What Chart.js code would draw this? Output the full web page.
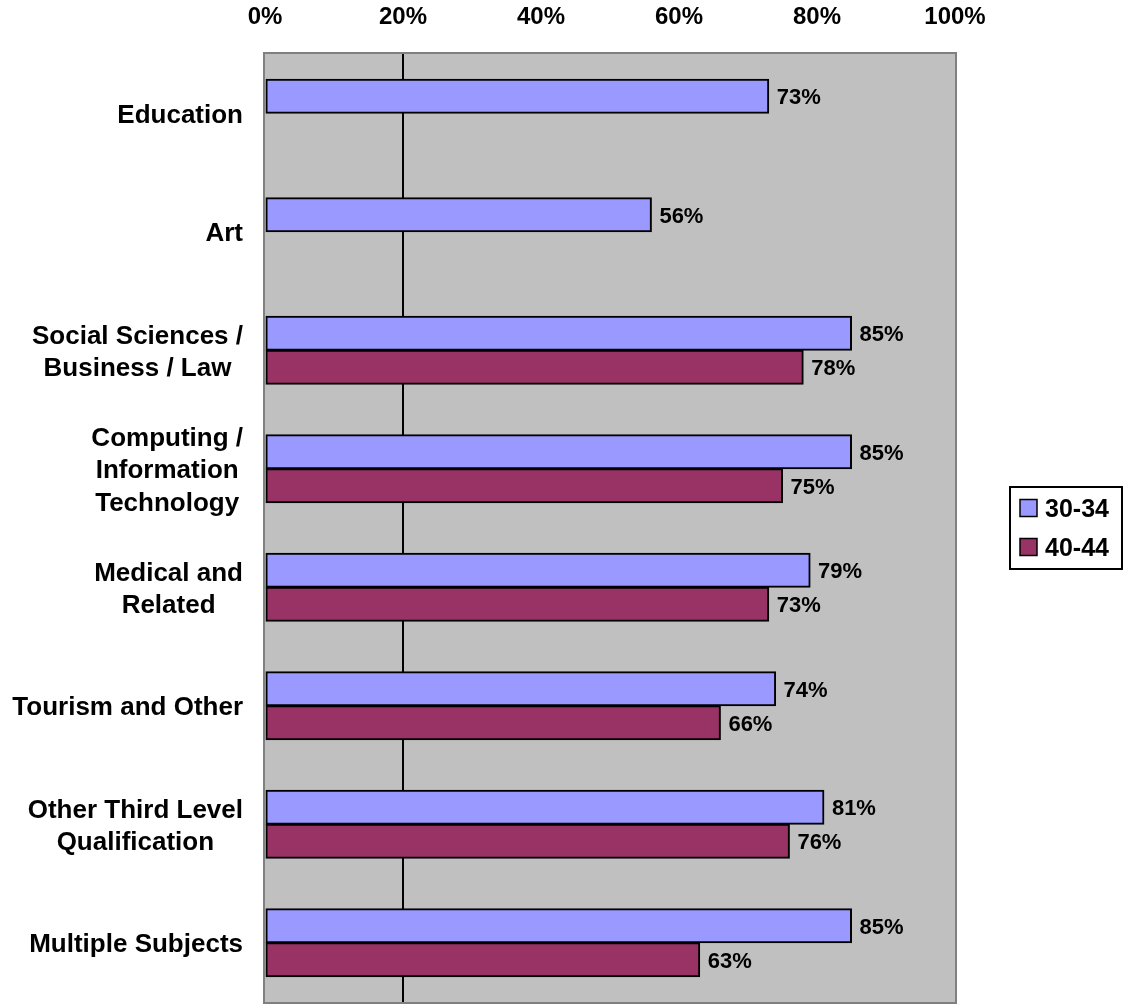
<!DOCTYPE html>
<html>
<head>
<meta charset="utf-8">
<script src="https://cdn.jsdelivr.net/npm/chart.js@4/dist/chart.umd.min.js"></script>
<style>
  html, body { margin: 0; padding: 0; background: #fff; }
  canvas { display: block; }
</style>
</head>
<body>
<canvas id="subjectChart" width="1124" height="1005"></canvas>
<script>
const categories = [
  ['Education'],
  ['Art'],
  ['Social Sciences /', 'Business / Law'],
  ['Computing /', 'Information', 'Technology'],
  ['Medical and', 'Related'],
  ['Tourism and Other'],
  ['Other Third Level', 'Qualification'],
  ['Multiple Subjects']
];
const seriesNames = ['30-34', '40-44'];
const age3034 = [73, 56, 85, 85, 79, 74, 81, 85];
const age4044 = [null, null, 78, 75, 73, 66, 76, 63];
const xTicks = [0, 20, 40, 60, 80, 100];

const FONT = "'Liberation Sans', Arial, sans-serif";

// gray plot area with its border
const plotBackground = {
  id: 'plotBackground',
  beforeDraw(chart) {
    const { ctx, chartArea: a } = chart;
    ctx.save();
    ctx.fillStyle = '#C0C0C0';
    ctx.fillRect(a.left, a.top, a.right - a.left, a.bottom - a.top);
    ctx.strokeStyle = '#808080';
    ctx.lineWidth = 2;
    ctx.strokeRect(a.left - 1, a.top - 1, a.right - a.left + 2, a.bottom - a.top + 2);
    ctx.restore();
  }
};

// category names: multi-line names centred on their widest line, block right-aligned
const categoryLabels = {
  id: 'categoryLabels',
  afterDraw(chart) {
    const { ctx } = chart;
    const y = chart.scales.y;
    const rightEdge = chart.chartArea.left - 22;
    const lineH = 32.5;
    ctx.save();
    ctx.font = 'bold 26px ' + FONT;
    ctx.fillStyle = '#000';
    ctx.textAlign = 'center';
    ctx.textBaseline = 'middle';
    categories.forEach((lines, i) => {
      const cy = y.getPixelForValue(i) + 2.5;
      const widest = Math.max(...lines.map(l => ctx.measureText(l).width));
      const cx = rightEdge - widest / 2;
      const top = cy - (lines.length - 1) * lineH / 2;
      lines.forEach((l, j) => ctx.fillText(l, cx, top + j * lineH));
    });
    ctx.restore();
  }
};

// percentage labels at the end of each bar
const valueLabels = {
  id: 'valueLabels',
  afterDatasetsDraw(chart) {
    const { ctx } = chart;
    ctx.save();
    ctx.font = 'bold 22px ' + FONT;
    ctx.fillStyle = '#000';
    ctx.textAlign = 'left';
    ctx.textBaseline = 'middle';
    chart.data.datasets.forEach((ds, di) => {
      chart.getDatasetMeta(di).data.forEach((bar, i) => {
        const v = ds.data[i];
        if (v == null) return;
        ctx.fillText(v + '%', bar.x + 8, bar.y + 2);
      });
    });
    ctx.restore();
  }
};

// boxed legend on the right
const boxLegend = {
  id: 'boxLegend',
  afterDraw(chart) {
    const { ctx } = chart;
    const left = 1010, top = 487, w = 112, h = 82;
    ctx.save();
    ctx.strokeStyle = '#000';
    ctx.lineWidth = 2;
    ctx.strokeRect(left, top, w, h);
    ctx.font = 'bold 25px ' + FONT;
    ctx.textBaseline = 'middle';
    chart.data.datasets.forEach((ds, i) => {
      const cy = top + 21 + i * 39;
      ctx.fillStyle = ds.backgroundColor;
      ctx.fillRect(left + 10, cy - 8.5, 17, 17);
      ctx.lineWidth = 1.5;
      ctx.strokeRect(left + 10, cy - 8.5, 17, 17);
      ctx.fillStyle = '#000';
      ctx.fillText(ds.label, left + 35, cy + 2);
    });
    ctx.restore();
  }
};

new Chart(document.getElementById('subjectChart'), {
  type: 'bar',
  data: {
    labels: categories,
    datasets: [{
      label: seriesNames[0],
      data: age3034,
      backgroundColor: '#9999FF',
      borderColor: '#000',
      borderWidth: 2,
      borderSkipped: false,
      inflateAmount: 0.5
    }, {
      label: seriesNames[1],
      data: age4044,
      backgroundColor: '#993366',
      borderColor: '#000',
      borderWidth: 2,
      borderSkipped: false,
      inflateAmount: 0.5
    }]
  },
  options: {
    indexAxis: 'y',
    responsive: false,
    animation: false,
    devicePixelRatio: 1,
    categoryPercentage: 0.574,
    barPercentage: 1,
    layout: { padding: { top: 0, right: 169, bottom: 3, left: 0 } },
    plugins: {
      legend: { display: false },
      tooltip: { enabled: false }
    },
    scales: {
      x: {
        position: 'top',
        min: xTicks[0],
        max: xTicks[xTicks.length - 1],
        afterBuildTicks: s => { s.ticks = xTicks.map(v => ({ value: v })); },
        afterFit: s => { s.height = 54; },
        ticks: {
          callback: v => v + '%',
          color: '#000',
          padding: 22,
          font: { family: FONT, size: 24, weight: 'bold' }
        },
        grid: {
          drawTicks: false,
          lineWidth: 2,
          color: c => (c.tick && c.tick.value === 20) ? '#000' : 'rgba(0,0,0,0)'
        },
        border: { display: false }
      },
      y: {
        afterFit: s => { s.width = 265; },
        ticks: { display: false },
        grid: { display: false },
        border: { display: false }
      }
    }
  },
  plugins: [plotBackground, categoryLabels, valueLabels, boxLegend]
});
</script>
</body>
</html>
